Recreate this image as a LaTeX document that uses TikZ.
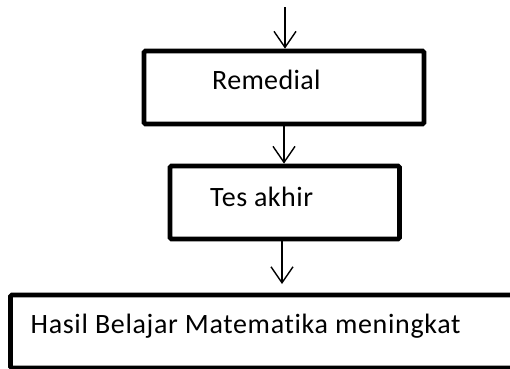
\documentclass[tikz,border=0pt]{standalone}
\usepackage{fontspec}
\setmainfont{Carlito}[Ligatures=NoCommon]
\usetikzlibrary{arrows.meta}
\tikzset{
  box/.style={draw=black, line width=4.8pt, rounded corners=1.5pt, inner sep=0pt, fill=white},
  lbl/.style={anchor=base west, inner sep=0pt},
  arr/.style={line width=1.4pt, -{Straight Barb[length=16pt, width=22pt, line width=1.4pt]}}
}
\newcommand{\lblfont}[1]{\fontsize{28}{34}\selectfont\addfontfeatures{LetterSpace=#1}}
\begin{document}
\begin{tikzpicture}[x=1pt, y=-1pt]
\useasboundingbox (0,0) rectangle (510,368);
\clip (0,0) rectangle (510,368);
\fill[white] (0,0) rectangle (510,368);
\node[box, minimum width=280pt, minimum height=73pt] (rem) at (284,87.5) {};
\node[lbl, font=\lblfont{1.2}] (remt) at (212,89) {Remedial};
\node[box, minimum width=229.5pt, minimum height=73pt] (tes) at (284.75,202.5) {};
\node[lbl, font=\lblfont{1.8}] (test) at (210,206) {Tes akhir};
\node[box, minimum width=529.5pt, minimum height=73pt] (res) at (275.25,331.5) {};
\node[lbl, font=\lblfont{2.4}] (rest) at (30.5,333.5) {Hasil Belajar Matematika meningkat};
\coordinate (start) at (285,7);
\coordinate (e3) at (282,284);
\draw[arr] (start) -- (start |- rem.north);
\draw[arr] (rem.south) -- (rem.south |- tes.north);
\draw[arr] (tes.south -| e3) -- (e3);
\end{tikzpicture}
\end{document}
